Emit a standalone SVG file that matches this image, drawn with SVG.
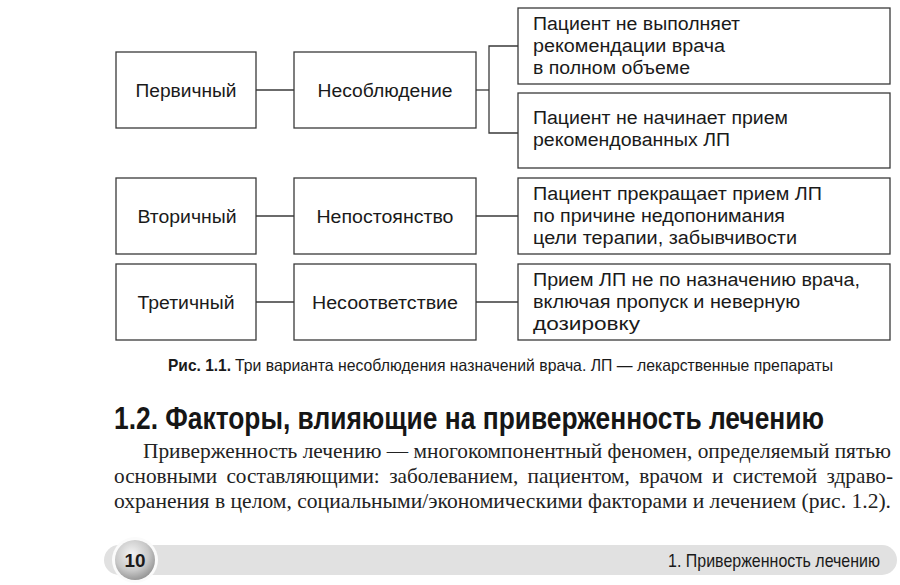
<svg xmlns="http://www.w3.org/2000/svg" width="900" height="585" viewBox="0 0 900 585">
<defs>
<radialGradient id="ball" cx="0.42" cy="0.35" r="0.7">
<stop offset="0" stop-color="#f4f4f4"/>
<stop offset="0.6" stop-color="#c8c8c8"/>
<stop offset="1" stop-color="#8e8e8e"/>
</radialGradient>
<style>
.box{fill:#fff;stroke:#3a3a3a;stroke-width:1.3}
.ln{fill:none;stroke:#3a3a3a;stroke-width:1.3}
.t{font-family:"Liberation Sans",Arial,sans-serif;font-size:18px;fill:#1a1a1a}
.c{text-anchor:middle}
.cap{font-family:"Liberation Sans Narrow","Liberation Sans",Arial,sans-serif;font-size:16.5px;fill:#1a1a1a}
.h{font-family:"Liberation Sans Narrow","Liberation Sans",Arial,sans-serif;font-size:31px;font-weight:bold;fill:#161616}
.body{font-family:"Liberation Serif","Times New Roman",serif;font-size:21px;fill:#222}
.ft{font-family:"Liberation Sans Narrow","Liberation Sans",Arial,sans-serif;font-size:19px;fill:#1a1a1a}
</style>
</defs>
<rect width="900" height="585" fill="#fff"/>

<g id="connectors">
<line class="ln" x1="256" y1="90" x2="294" y2="90"/>
<polyline class="ln" points="476,90 489,90"/>
<polyline class="ln" points="518,46 489,46 489,133 518,133"/>
<line class="ln" x1="256" y1="216" x2="294" y2="216"/>
<line class="ln" x1="476" y1="216" x2="518" y2="216"/>
<line class="ln" x1="256" y1="302" x2="294" y2="302"/>
<line class="ln" x1="476" y1="302" x2="518" y2="302"/>
</g>

<g id="n-primary">
<rect class="box" x="116" y="52" width="140" height="76"/>
<text class="t c" x="186" y="97" textLength="101" lengthAdjust="spacingAndGlyphs">Первичный</text>
</g>
<g id="n-noncompliance">
<rect class="box" x="294" y="52" width="182" height="76"/>
<text class="t c" x="385" y="97" textLength="135" lengthAdjust="spacingAndGlyphs">Несоблюдение</text>
</g>
<g id="n-r1">
<rect class="box" x="518" y="8" width="372" height="76"/>
<text class="t" x="533" y="30" textLength="207" lengthAdjust="spacingAndGlyphs">Пациент не выполняет</text>
<text class="t" x="533" y="52" textLength="192" lengthAdjust="spacingAndGlyphs">рекомендации врача</text>
<text class="t" x="533" y="74" textLength="157" lengthAdjust="spacingAndGlyphs">в полном объеме</text>
</g>
<g id="n-r2">
<rect class="box" x="518" y="93" width="372" height="75"/>
<text class="t" x="533" y="124" textLength="255" lengthAdjust="spacingAndGlyphs">Пациент не начинает прием</text>
<text class="t" x="533" y="146" textLength="197" lengthAdjust="spacingAndGlyphs">рекомендованных ЛП</text>
</g>

<g id="n-secondary">
<rect class="box" x="116" y="178" width="140" height="76"/>
<text class="t c" x="187" y="223" textLength="99" lengthAdjust="spacingAndGlyphs">Вторичный</text>
</g>
<g id="n-inconstancy">
<rect class="box" x="294" y="178" width="182" height="76"/>
<text class="t c" x="385" y="223" textLength="137" lengthAdjust="spacingAndGlyphs">Непостоянство</text>
</g>
<g id="n-r3">
<rect class="box" x="518" y="178" width="372" height="76"/>
<text class="t" x="533" y="200" textLength="289" lengthAdjust="spacingAndGlyphs">Пациент прекращает прием ЛП</text>
<text class="t" x="533" y="222" textLength="252" lengthAdjust="spacingAndGlyphs">по причине недопонимания</text>
<text class="t" x="533" y="244" textLength="264" lengthAdjust="spacingAndGlyphs">цели терапии, забывчивости</text>
</g>

<g id="n-tertiary">
<rect class="box" x="116" y="264" width="140" height="76"/>
<text class="t c" x="186" y="309" textLength="97" lengthAdjust="spacingAndGlyphs">Третичный</text>
</g>
<g id="n-mismatch">
<rect class="box" x="294" y="264" width="182" height="76"/>
<text class="t c" x="385" y="309" textLength="146" lengthAdjust="spacingAndGlyphs">Несоответствие</text>
</g>
<g id="n-r4">
<rect class="box" x="518" y="264" width="372" height="76"/>
<text class="t" x="533" y="286" textLength="327" lengthAdjust="spacingAndGlyphs">Прием ЛП не по назначению врача,</text>
<text class="t" x="533" y="308" textLength="267" lengthAdjust="spacingAndGlyphs">включая пропуск и неверную</text>
<text class="t" x="533" y="330" textLength="107" lengthAdjust="spacingAndGlyphs">дозировку</text>
</g>

<g id="caption">
<text class="cap" x="168" y="371" font-weight="bold" textLength="63" lengthAdjust="spacingAndGlyphs">Рис. 1.1.</text>
<text class="cap" x="235" y="371" textLength="598" lengthAdjust="spacingAndGlyphs">Три варианта несоблюдения назначений врача. ЛП — лекарственные препараты</text>
</g>

<g id="heading">
<text class="h" x="114" y="429" textLength="710" lengthAdjust="spacingAndGlyphs">1.2. Факторы, влияющие на приверженность лечению</text>
</g>

<g id="body">
<text class="body" x="143" y="458" textLength="748" lengthAdjust="spacingAndGlyphs">Приверженность лечению — многокомпонентный феномен, определяемый пятью</text>
<text class="body" x="114" y="483" word-spacing="4" textLength="779" lengthAdjust="spacingAndGlyphs">основными составляющими: заболеванием, пациентом, врачом и системой здраво-</text>
<text class="body" x="114" y="508" textLength="777" lengthAdjust="spacingAndGlyphs">охранения в целом, социальными/экономическими факторами и лечением (рис. 1.2).</text>
</g>

<g id="footer">
<rect x="104" y="545" width="793" height="30" rx="15" fill="#e1e1e1"/>
<circle cx="135" cy="560" r="23" fill="#fbfbfb"/>
<circle cx="135" cy="560" r="20" fill="url(#ball)"/>
<text class="ft c" x="135" y="567" font-weight="bold" textLength="21" lengthAdjust="spacingAndGlyphs">10</text>
<text class="ft" x="668" y="567" textLength="212" lengthAdjust="spacingAndGlyphs">1. Приверженность лечению</text>
</g>
</svg>
